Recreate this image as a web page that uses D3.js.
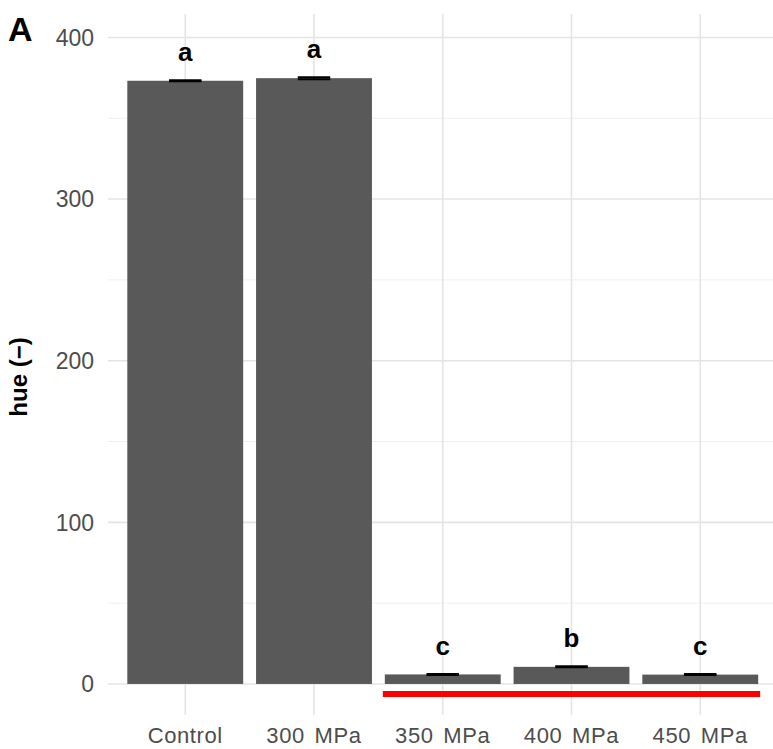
<!DOCTYPE html>
<html>
<head>
<meta charset="utf-8">
<script src="https://cdn.jsdelivr.net/npm/d3@7"></script>
<style>
  html, body { margin: 0; padding: 0; background: #fff; }
  svg { display: block; font-family: "Liberation Sans", Arial, sans-serif; }
</style>
</head>
<body>
<svg id="chart" width="773" height="749"></svg>
<script>
// Treatments, mean hue and standard deviation, significance letters
const categories = ["Control", "300 MPa", "350 MPa", "400 MPa", "450 MPa"];
const hueMean    = [373.2, 374.8, 5.9, 10.6, 5.8];
const hueSd      = [0.3, 0.6, 0.3, 0.3, 0.3];
const letters    = ["a", "a", "c", "b", "c"];
const yTicks     = [0, 100, 200, 300, 400];
const yMinor     = [50, 150, 250, 350];
// Groups underlined in red
const highlighted = ["350 MPa", "450 MPa"];
const highlightY  = -6.2;

const svg = d3.select("#chart");
const panel = { left: 108, right: 777.5, top: 14, bottom: 715 };

const x = d3.scaleBand()
  .domain(categories)
  .range([panel.left, panel.right])
  .paddingInner(0.1)
  .paddingOuter(0.15);

const y = d3.scaleLinear()
  .domain([-19.2, 414.5])
  .range([panel.bottom, panel.top]);

const g = svg.append("g");

// minor grid
g.selectAll("line.minor").data(yMinor).join("line")
  .attr("x1", panel.left).attr("x2", panel.right)
  .attr("y1", d => y(d)).attr("y2", d => y(d))
  .attr("stroke", "#efefef").attr("stroke-width", 1);

// major grid
g.selectAll("line.major").data(yTicks).join("line")
  .attr("x1", panel.left).attr("x2", panel.right)
  .attr("y1", d => y(d)).attr("y2", d => y(d))
  .attr("stroke", "#e4e4e4").attr("stroke-width", 1.6);

g.selectAll("line.vgrid").data(categories).join("line")
  .attr("x1", d => x(d) + x.bandwidth() / 2).attr("x2", d => x(d) + x.bandwidth() / 2)
  .attr("y1", panel.top).attr("y2", panel.bottom)
  .attr("stroke", "#e4e4e4").attr("stroke-width", 1.6);

const rows = categories.map((c, i) => ({ c, m: hueMean[i], sd: hueSd[i], l: letters[i] }));

// bars
g.selectAll("rect.bar").data(rows).join("rect")
  .attr("x", d => x(d.c))
  .attr("width", x.bandwidth())
  .attr("y", d => y(d.m))
  .attr("height", d => y(0) - y(d.m))
  .attr("fill", "#595959");

// error bars
const ebw = x.bandwidth() * 0.28;
g.selectAll("g.err").data(rows).join("g").each(function(d) {
  const cx = x(d.c) + x.bandwidth() / 2;
  const s = d3.select(this);
  s.append("line").attr("x1", cx).attr("x2", cx)
    .attr("y1", y(d.m - d.sd)).attr("y2", y(d.m + d.sd))
    .attr("stroke", "#000").attr("stroke-width", 2);
  [d.m - d.sd, d.m + d.sd].forEach(v => {
    s.append("line").attr("x1", cx - ebw / 2).attr("x2", cx + ebw / 2)
      .attr("y1", y(v)).attr("y2", y(v))
      .attr("stroke", "#000").attr("stroke-width", 2);
  });
});

// letters
g.selectAll("text.letter").data(rows).join("text")
  .attr("x", d => x(d.c) + x.bandwidth() / 2)
  .attr("y", d => y(d.m + d.sd) - 19)
  .attr("text-anchor", "middle")
  .attr("font-size", 26).attr("font-weight", "bold")
  .attr("fill", "#000")
  .text(d => d.l);

// red underline
g.append("line")
  .attr("x1", x(highlighted[0]) - 2)
  .attr("x2", x(highlighted[1]) + x.bandwidth() + 2)
  .attr("y1", y(highlightY)).attr("y2", y(highlightY))
  .attr("stroke", "#ff0000").attr("stroke-width", 6);

// y tick labels
g.selectAll("text.ytick").data(yTicks).join("text")
  .attr("x", 94).attr("y", d => y(d))
  .attr("dy", "0.36em")
  .attr("text-anchor", "end")
  .attr("font-size", 23).attr("fill", "#4d4d4d")
  .text(d => d);

// x tick labels
g.selectAll("text.xtick").data(categories).join("text")
  .attr("x", d => x(d) + x.bandwidth() / 2)
  .attr("y", 743)
  .attr("text-anchor", "middle")
  .attr("font-size", 22).attr("fill", "#4d4d4d")
  .attr("letter-spacing", 0.6).attr("word-spacing", 3)
  .text(d => d);

// y axis title
svg.append("text")
  .attr("transform", "translate(27,377) rotate(-90)")
  .attr("text-anchor", "middle")
  .attr("font-size", 24).attr("font-weight", "bold")
  .text("hue (\u2212)");

// panel tag
svg.append("text")
  .attr("x", 8).attr("y", 41)
  .attr("font-size", 34).attr("font-weight", "bold")
  .text("A");
</script>
</body>
</html>
